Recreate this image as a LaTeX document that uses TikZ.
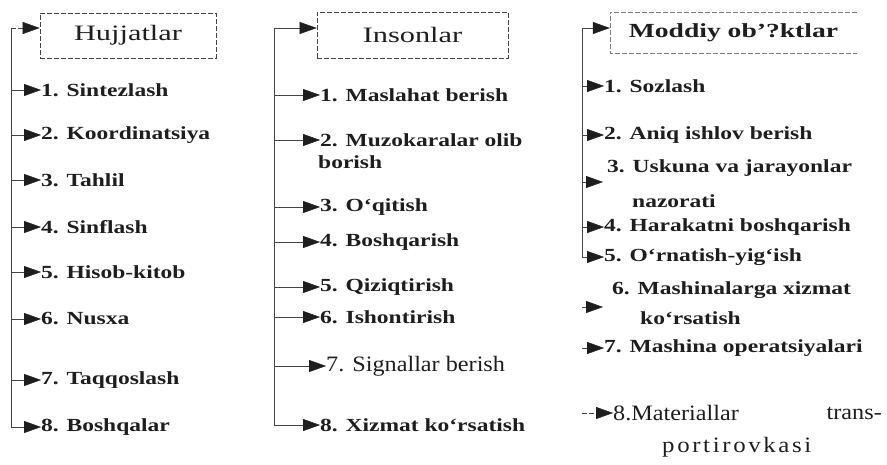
\documentclass[tikz,border=0pt]{standalone}
\usepackage{fontspec}
\setmainfont{Liberation Serif}
\newfontfamily\itemfam[FakeStretch=1.27]{Liberation Serif}
\newfontfamily\hdrfam[FakeStretch=1.38]{Liberation Serif}
\newfontfamily\regfam[FakeStretch=1.1]{Liberation Serif}
\newfontfamily\spfam[FakeStretch=1.13,LetterSpace=12]{Liberation Serif}
\usetikzlibrary{arrows.meta}
\definecolor{lc}{HTML}{444444}
\definecolor{tc}{HTML}{1E1E1E}
\newcommand\itf{\itemfam\bfseries\fontsize{18.5}{20}\selectfont}
\newcommand\hdf{\hdrfam\fontsize{22}{24}\selectfont}
\newcommand\hdfb{\hdrfam\bfseries\fontsize{20}{22}\selectfont}
\newcommand\rgf{\regfam\fontsize{22}{24}\selectfont}
\newcommand\spf{\spfam\fontsize{22}{24}\selectfont}
\tikzset{
  ln/.style={draw=lc, line width=0.8pt},
  dsh/.style={dash pattern=on 5pt off 2pt},
  tipx/.tip={Triangle[length=17pt,width=12pt,color=tc,fill=tc,line width=0.4pt]},
  arr/.style={ln, -tipx},
  itm/.style={anchor=west, inner sep=0pt, text=tc, font=\itf},
  hbox/.style={draw=lc, dsh, line width=0.7pt, inner sep=0pt, text=tc}
}
\begin{document}
\begin{tikzpicture}[x=1pt,y=-1pt]
\useasboundingbox[fill=white] (0,0) rectangle (887,464);

% ---------- Column 1 ----------
\node[hbox, minimum width=176pt, minimum height=45pt] (hj) at (128,35.5) {\hdf Hujjatlar};
\coordinate (a0) at (11,28);
\node[itm] (a1) at (41,90)  {1. Sintezlash};
\node[itm] (a2) at (41,135) {2. Koordinatsiya};
\node[itm] (a3) at (41,180) {3. Tahlil};
\node[itm] (a4) at (41,227) {4. Sinflash};
\node[itm] (a5) at (41,272) {5. Hisob-kitob};
\node[itm] (a6) at (41,319) {6. Nusxa};
\node[itm] (a7) at (41,380) {7. Taqqoslash};
\node[itm] (a8) at (41,427) {8. Boshqalar};
\draw[ln] (a0) -- (a0 |- a8.west);
\draw[arr,dsh] (a0) -- (a0 -| hj.west);
\foreach \i in {1,...,8} { \draw[arr] (a0 |- a\i.west) -- (a\i.west); }

% ---------- Column 2 ----------
\node[hbox, minimum width=191pt, minimum height=46pt] (ins) at (412.5,35) {\hdf Insonlar};
\coordinate (b0) at (274,28);
\node[itm] (b1) at (320,95)  {1. Maslahat berish};
\node[itm] (b2) at (320,140) {2. Muzokaralar olib};
\node[itm] (b2b) at (318,162) {borish};
\node[itm] (b3) at (320,207) {3. O‘qitish};
\node[itm] (b4) at (320,242) {4. Boshqarish};
\node[itm] (b5) at (320,287) {5. Qiziqtirish};
\node[itm] (b6) at (320,317) {6. Ishontirish};
\node[itm, font=\rgf] (b7) at (326,366) {7. Signallar berish};
\node[itm] (b8) at (320,425) {8. Xizmat ko‘rsatish};
\draw[ln] (b0) -- (b0 |- b8.west);
\draw[arr] (b0) -- (b0 -| ins.west);
\foreach \i in {1,...,8} { \draw[arr] (b0 |- b\i.west) -- (b\i.west); }

% ---------- Column 3 ----------
\node[inner sep=0pt, minimum width=247pt, minimum height=41pt, text=tc] (md) at (733.5,32.5) {\hdfb Moddiy ob’?ktlar};
\draw[ln, dsh, line width=0.6pt, draw=lc!70] (md.north east) -- (md.north west) -- (md.south west) -- (md.south east);
\coordinate (c0) at (582,28);
\node[itm] (c1) at (604,86)  {1. Sozlash};
\node[itm] (c2) at (604,135) {2. Aniq ishlov berish};
\node[itm] (c3a) at (607,168) {3. Uskuna va jarayonlar};
\node[itm] (c3b) at (632,201) {nazorati};
\coordinate (c3) at (603,182);
\node[itm] (c4) at (604,227) {4. Harakatni boshqarish};
\node[itm] (c5) at (604,257) {5. O‘rnatish-yig‘ish};
\node[itm] (c6a) at (612,290) {6. Mashinalarga xizmat};
\node[itm] (c6b) at (640,318) {ko‘rsatish};
\coordinate (c6) at (603,307);
\node[itm] (c7) at (604,348) {7. Mashina operatsiyalari};
\node[itm, font=\rgf] (c8) at (613,413) {8.Materiallar};
\node[inner sep=0pt, anchor=east, text=tc, font=\rgf] (c8b) at (882,413) {trans-};
\node[itm, font=\spf] (c8c) at (662,447) {portirovkasi};
\draw[ln] (c0) -- (c0 |- c5.west);
\draw[arr] (c0) -- (c0 -| md.west);
\draw[arr] (c0 |- c1.west) -- (c1.west);
\draw[arr] (c0 |- c2.west) -- (c2.west);
\draw[arr] (c0 |- c3) -- (c3);
\draw[arr] (c0 |- c4.west) -- (c4.west);
\draw[arr] (c0 |- c5.west) -- (c5.west);
\draw[arr,dsh] (c0 |- c6) -- (c6);
\draw[arr,dsh] (c0 |- c7.west) -- (c7.west);
\draw[arr,dsh] (c0 |- c8.west) -- (c8.west);
\end{tikzpicture}
\end{document}
